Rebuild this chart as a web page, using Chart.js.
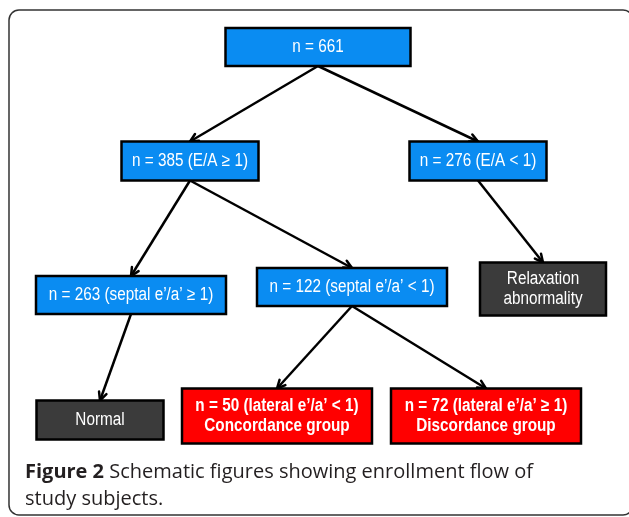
<!DOCTYPE html>
<html>
<head>
<meta charset="utf-8">
<script src="https://cdn.jsdelivr.net/npm/chart.js@4.4.1/dist/chart.umd.min.js"></script>
<style>
html,body{margin:0;padding:0;background:#fff;}
#c{display:block;}
</style>
</head>
<body>
<canvas id="c" width="629" height="517"></canvas>
<script>
// ---- data ----
const nodeIds = ["all", "ea_ge", "ea_lt", "sep_ge", "sep_lt", "relax", "normal", "conc", "disc"];
const nodeLabels = [
  ["n = 661"],
  ["n = 385 (E/A \u2265 1)"],
  ["n = 276 (E/A < 1)"],
  ["n = 263 (septal e\u2019/a\u2019 \u2265 1)"],
  ["n = 122 (septal e\u2019/a\u2019 < 1)"],
  ["Relaxation", "abnormality"],
  ["Normal"],
  ["n = 50 (lateral e\u2019/a\u2019 < 1)", "Concordance group"],
  ["n = 72 (lateral e\u2019/a\u2019 \u2265 1)", "Discordance group"]
];
const nodeKind = ["count", "count", "count", "count", "count", "outcome", "outcome", "group", "group"];
const nodeX = [318, 190, 478, 131, 352, 543, 100, 277, 486];
const nodeY = [47, 161, 161, 295, 287, 289, 420, 416, 416];
const edgeFrom = ["all", "all", "ea_ge", "ea_ge", "ea_lt", "sep_ge", "sep_lt", "sep_lt"];
const edgeTo   = ["ea_ge", "ea_lt", "sep_ge", "sep_lt", "relax", "normal", "conc", "disc"];
const captionBold = "Figure 2";
const captionLines = [" Schematic figures showing enrollment flow of", "study subjects."];

// ---- layout / style (not data) ----
const boxSize = {
  all: [185, 38], ea_ge: [137, 39], ea_lt: [137, 39], sep_ge: [190, 38], sep_lt: [190, 38],
  relax: [126, 53], normal: [127, 39], conc: [190, 55], disc: [190, 55]
};
const kindFill = { count: "#0a8cf2", outcome: "#3b3b3b", group: "#ff0000" };
const fam = "'Liberation Sans', Arial, sans-serif";
const kindFont = { count: "18px " + fam, outcome: "18px " + fam, group: "bold 18px " + fam };
const condense = 0.85;

const idx = id => nodeIds.indexOf(id);

const edgeDatasets = edgeFrom.map((f, i) => {
  const a = idx(f), b = idx(edgeTo[i]);
  return {
    type: 'line',
    data: [
      { x: nodeX[a], y: nodeY[a] + boxSize[f][1] / 2 },
      { x: nodeX[b], y: nodeY[b] - boxSize[edgeTo[i]][1] / 2 }
    ],
    borderColor: '#000',
    borderWidth: 2.5,
    pointRadius: 0,
    fill: false,
    tension: 0,
    isEdge: true
  };
});

const nodeDataset = {
  type: 'scatter',
  data: nodeIds.map((id, i) => ({ x: nodeX[i], y: nodeY[i] })),
  pointRadius: 0,
  isNode: true
};

const flowPlugin = {
  id: 'flow',
  beforeDatasetsDraw(chart) {
    const ctx = chart.ctx;
    const xs = chart.scales.x, ys = chart.scales.y;
    ctx.save();
    ctx.strokeStyle = '#333';
    ctx.lineWidth = 1.5;
    ctx.beginPath();
    const l = xs.getPixelForValue(9), t = ys.getPixelForValue(10), r = xs.getPixelForValue(633), b = ys.getPixelForValue(515);
    ctx.roundRect(l, t, r - l, b - t, 10);
    ctx.stroke();
    ctx.restore();
  },
  afterDatasetsDraw(chart) {
    const ctx = chart.ctx;
    const xs = chart.scales.x, ys = chart.scales.y;
    ctx.save();
    chart.data.datasets.forEach(ds => {
      if (!ds.isEdge) return;
      const p0 = ds.data[0], p1 = ds.data[1];
      const x0 = xs.getPixelForValue(p0.x), y0 = ys.getPixelForValue(p0.y);
      const x1 = xs.getPixelForValue(p1.x), y1 = ys.getPixelForValue(p1.y);
      const ang = Math.atan2(y1 - y0, x1 - x0);
      const L = 9, A = 0.45;
      ctx.strokeStyle = '#000';
      ctx.lineWidth = 2.5;
      ctx.lineCap = 'round';
      ctx.beginPath();
      ctx.moveTo(x1 - L * Math.cos(ang - A), y1 - L * Math.sin(ang - A));
      ctx.lineTo(x1, y1);
      ctx.lineTo(x1 - L * Math.cos(ang + A), y1 - L * Math.sin(ang + A));
      ctx.stroke();
    });
    nodeIds.forEach((id, i) => {
      const [w, h] = boxSize[id];
      const cx = xs.getPixelForValue(nodeX[i]), cy = ys.getPixelForValue(nodeY[i]);
      const x = cx - w / 2, y = cy - h / 2;
      ctx.fillStyle = kindFill[nodeKind[i]];
      ctx.fillRect(x, y, w, h);
      ctx.strokeStyle = '#000';
      ctx.lineWidth = 2.5;
      ctx.strokeRect(x, y, w, h);
      ctx.fillStyle = '#fff';
      ctx.font = kindFont[nodeKind[i]];
      ctx.textAlign = 'center';
      ctx.textBaseline = 'middle';
      const lines = nodeLabels[i];
      const lh = 20.5;
      lines.forEach((s, k) => {
        ctx.save();
        ctx.translate(cx, cy + (k - (lines.length - 1) / 2) * lh);
        ctx.scale(condense, 1);
        ctx.fillText(s, 0, 0);
        ctx.restore();
      });
    });
    ctx.fillStyle = '#231f20';
    ctx.textAlign = 'left';
    ctx.textBaseline = 'alphabetic';
    const cfam = "'Open Sans', 'Noto Sans', sans-serif";
    const cx0 = xs.getPixelForValue(25);
    ctx.font = "bold 20px " + cfam;
    ctx.fillText(captionBold, cx0, ys.getPixelForValue(478));
    const bw = ctx.measureText(captionBold).width;
    ctx.font = "20px " + cfam;
    ctx.fillText(captionLines[0], cx0 + bw, ys.getPixelForValue(478));
    ctx.fillText(captionLines[1], cx0, ys.getPixelForValue(505));
    ctx.restore();
  }
};

new Chart(document.getElementById('c'), {
  data: { datasets: [...edgeDatasets, nodeDataset] },
  options: {
    responsive: false,
    animation: false,
    devicePixelRatio: 1,
    layout: { padding: 0 },
    plugins: { legend: { display: false }, tooltip: { enabled: false }, title: { display: false } },
    scales: {
      x: { type: 'linear', min: 0, max: 629, display: false },
      y: { type: 'linear', min: 0, max: 517, reverse: true, display: false }
    }
  },
  plugins: [flowPlugin]
});
</script>
</body>
</html>
